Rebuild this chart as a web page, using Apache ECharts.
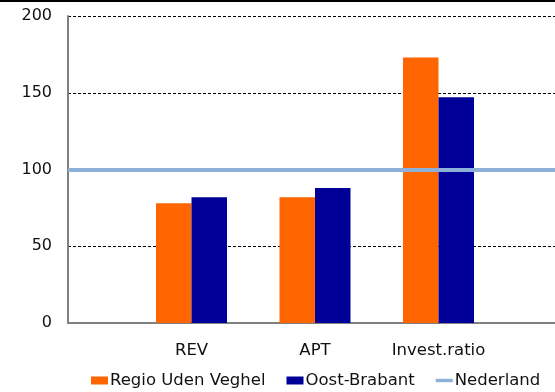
<!DOCTYPE html>
<html>
<head>
<meta charset="utf-8">
<script src="https://cdn.jsdelivr.net/npm/echarts@6/dist/echarts.min.js"></script>
<style>
  html, body { margin: 0; padding: 0; background: #fff; }
  #chart { width: 555px; height: 392px; }
</style>
</head>
<body>
<div id="chart"></div>
<script>
// Index values per indicator (Nederland = 100)
const categories = ['REV', 'APT', 'Invest.ratio'];
const regioUdenVeghel = [78, 82, 173];
const oostBrabant = [82, 88, 147];
const nederland = 100;
const yTicks = [0, 50, 100, 150, 200];

// Category axis uses empty slots at both ends so the groups sit on the points
const axisCats = [''].concat(categories, ['']);
const pad = arr => [null].concat(arr, [null]);

const FONT = 'DejaVu Sans';
const LINE_BLUE = '#8DB0D8';

const chart = echarts.init(document.getElementById('chart'), null, { renderer: 'canvas' });

chart.setOption({
  animation: false,
  backgroundColor: '#ffffff',
  textStyle: { fontFamily: FONT },
  grid: {
    left: 68, width: 494, top: 16, bottom: 69,
    containLabel: false,
    outerBoundsMode: 'none'
  },
  graphic: [{
    type: 'rect',
    shape: { x: 0, y: 0, width: 555, height: 2 },
    style: { fill: '#000' },
    silent: true
  }],
  legend: {
    left: 91,
    top: 372,
    padding: 0,
    itemWidth: 17,
    itemHeight: 8,
    itemGap: 21,
    textStyle: { fontFamily: FONT, fontSize: 16.5, color: '#111', padding: [0, 0, 0, -3] },
    data: [
      { name: 'Regio Uden Veghel', icon: 'rect' },
      { name: 'Oost-Brabant', icon: 'rect' },
      {
        name: 'Nederland',
        icon: 'path://M0,0 L20,0 L20,4 L0,4 Z',
        itemStyle: { color: LINE_BLUE }
      }
    ]
  },
  xAxis: {
    type: 'category',
    data: axisCats,
    boundaryGap: false,
    axisLine: { lineStyle: { color: '#808080', width: 2 } },
    axisTick: { show: false },
    axisLabel: { interval: 0, margin: 19, fontFamily: FONT, fontSize: 16.5, color: '#111' },
    splitLine: { show: false }
  },
  yAxis: {
    type: 'value',
    min: yTicks[0],
    max: yTicks[yTicks.length - 1],
    interval: yTicks[1] - yTicks[0],
    axisLine: { show: true, lineStyle: { color: '#808080', width: 2 } },
    axisTick: { show: false },
    axisLabel: { margin: 16, fontFamily: FONT, fontSize: 16, color: '#111' },
    splitLine: { show: true, lineStyle: { color: '#000', width: 1, type: [3, 2] } }
  },
  series: [
    {
      name: 'Regio Uden Veghel',
      type: 'bar',
      data: pad(regioUdenVeghel),
      barWidth: 35.5,
      barGap: '0%',
      itemStyle: { color: '#FF6600' }
    },
    {
      name: 'Oost-Brabant',
      type: 'bar',
      data: pad(oostBrabant),
      barWidth: 35.5,
      barGap: '0%',
      itemStyle: { color: '#000099' }
    },
    {
      name: 'Nederland',
      type: 'line',
      data: [],
      symbol: 'none',
      showSymbol: false,
      itemStyle: { color: LINE_BLUE },
      lineStyle: { color: LINE_BLUE, width: 4 },
      markLine: {
        silent: true,
        symbol: 'none',
        label: { show: false },
        lineStyle: { color: LINE_BLUE, width: 4, type: 'solid' },
        data: [{ yAxis: nederland }]
      },
      z: 5
    }
  ]
});
</script>
</body>
</html>
